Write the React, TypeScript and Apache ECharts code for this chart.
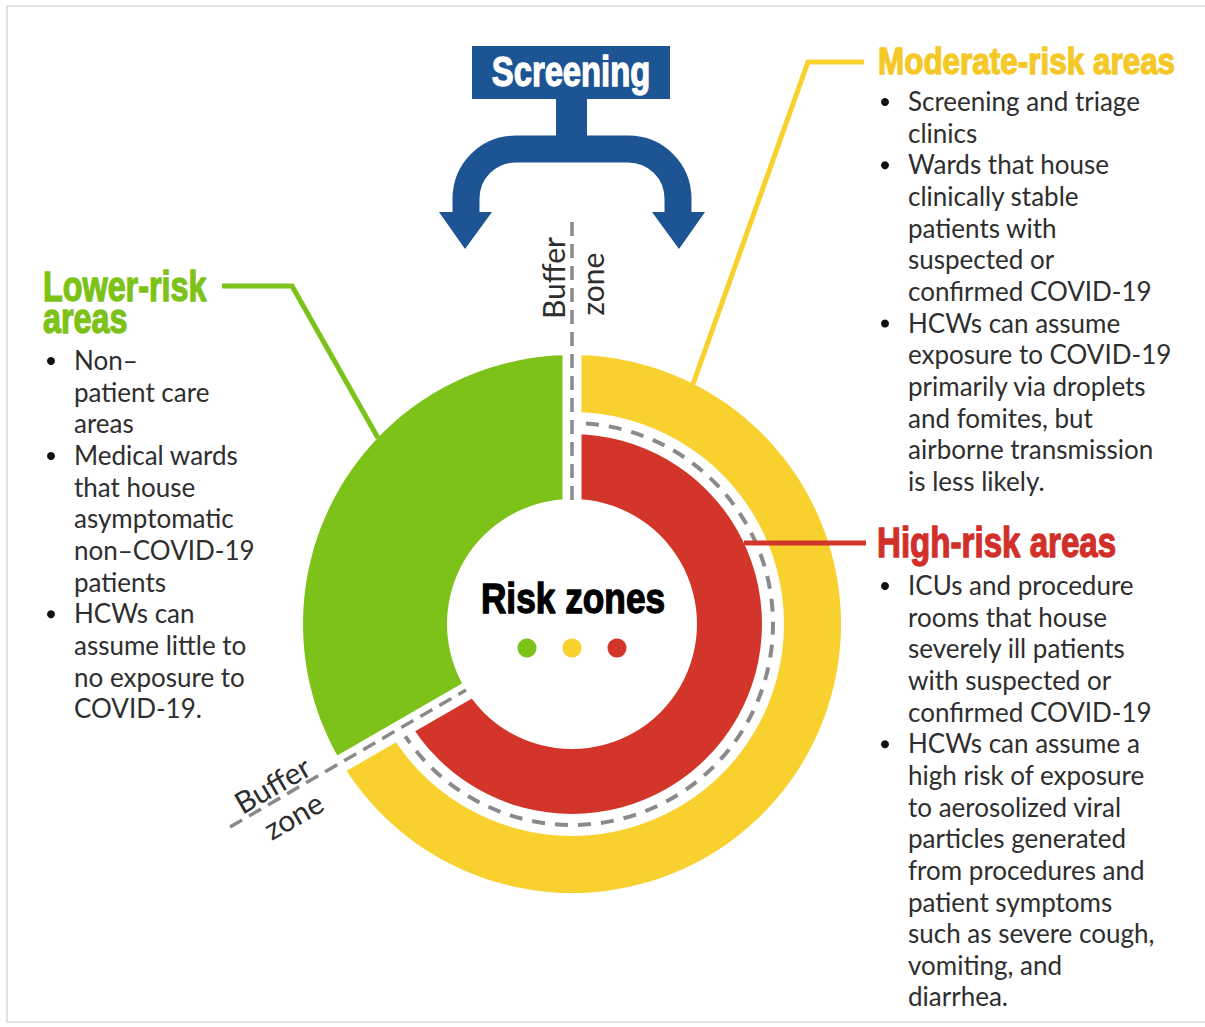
import React, { useEffect, useRef } from "react";
import * as echarts from "echarts";

// ---------- data ----------
const sectorNames = ["Moderate- and high-risk side", "Lower-risk side"];
const sectorDegrees = [240, 120];

const zoneKeys = ["lower", "moderate", "high"];
const zoneColors = ["#7cc218", "#f9d12f", "#d3352b"];
const headingColors = ["#7cc218", "#f4c927", "#d1302a"];

const screeningLabel = "Screening";
const centerLabel = "Risk zones";
const bufferWords = ["Buffer", "zone"];

const lowerTitle = ["Lower-risk", "areas"];
const lowerItems = [
  ["Non–", "patient care", "areas"],
  ["Medical wards", "that house", "asymptomatic", "non–COVID-19", "patients"],
  ["HCWs can", "assume little to", "no exposure to", "COVID-19."],
];
const moderateTitle = "Moderate-risk areas";
const moderateItems = [
  ["Screening and triage", "clinics"],
  ["Wards that house", "clinically stable", "patients with", "suspected or", "confirmed COVID-19"],
  ["HCWs can assume", "exposure to COVID-19", "primarily via droplets", "and fomites, but", "airborne transmission", "is less likely."],
];
const highTitle = "High-risk areas";
const highItems = [
  ["ICUs and procedure", "rooms that house", "severely ill patients", "with suspected or", "confirmed COVID-19"],
  ["HCWs can assume a", "high risk of exposure", "to aerosolized viral", "particles generated", "from procedures and", "patient symptoms", "such as severe cough,", "vomiting, and", "diarrhea."],
];

// ---------- layout constants ----------
const CX = 572;
const CY = 624;
const BLUE = "#1c5494";
const DASH = "#8a8a8a";
const TEXT = "#2e2e2e";
const HEAD_FONT = "'Liberation Sans', Arial, sans-serif";
const BODY_FONT = "Lato, 'Open Sans', sans-serif";
const LINE_H = 31.65;

const archPath =
  "M466 216 L466 199 C466 171 488 149 516 149 L628 149 C656 149 678 171 678 199 L678 216";
echarts.graphic.registerShape("screenArch", echarts.graphic.extendPath(archPath, {}));

function txt(x: number, y: number, text: string, o: any = {}) {
  const align = o.align || "left";
  const style: any = {
    text,
    fill: o.fill || TEXT,
    fontSize: o.fontSize || 26,
    fontFamily: o.fontFamily || BODY_FONT,
    fontWeight: o.fontWeight || "normal",
    align,
    textAlign: align,
    verticalAlign: "middle",
    textVerticalAlign: "middle",
  };
  if (o.heavy) {
    style.stroke = o.fill;
    style.lineWidth = o.heavy;
  }
  return {
    type: "text",
    x,
    y,
    z: o.z ?? 20,
    rotation: o.rotation || 0,
    scaleX: o.scaleX ?? 1,
    silent: true,
    style,
  };
}

function bulletList(items: string[][], x: number, startY: number) {
  const els: any[] = [];
  let row = 0;
  items.forEach((lines) => {
    els.push({
      type: "circle",
      z: 20,
      silent: true,
      shape: { cx: x - 23, cy: startY + row * LINE_H + 1, r: 4 },
      style: { fill: "#111" },
    });
    lines.forEach((line) => {
      els.push(txt(x, startY + row * LINE_H, line));
      row++;
    });
  });
  return els;
}

function ring(name: string, inner: number, outer: number, colors: string[]) {
  return {
    type: "pie",
    name,
    center: [CX, CY],
    radius: [inner, outer],
    startAngle: 90,
    clockwise: true,
    silent: true,
    avoidLabelOverlap: false,
    label: { show: false },
    labelLine: { show: false },
    emphasis: { disabled: true },
    itemStyle: { borderWidth: 0 },
    data: sectorDegrees.map((v, i) => ({
      name: sectorNames[i],
      value: v,
      itemStyle: { color: colors[i], borderWidth: 0 },
    })),
  };
}

export default function App() {
  const ref = useRef<HTMLDivElement>(null);
  useEffect(() => {
    if (!ref.current) return;
    const chart = echarts.init(ref.current, null, { renderer: "svg" });
    const none = "rgba(0,0,0,0)";
    const head = (x: number, y: number, t: string, color: string, fs: number, sx: number, align = "left") =>
      txt(x, y, t, {
        fill: color,
        fontSize: fs,
        fontFamily: HEAD_FONT,
        fontWeight: "bold",
        scaleX: sx,
        align,
        heavy: 1.3,
      });
    const graphics: any[] = [
      // frame
      {
        type: "rect",
        z: 1,
        silent: true,
        shape: { x: 7, y: 6, width: 1205, height: 1016 },
        style: { fill: "none", stroke: "#e3e3e3", lineWidth: 2 },
      },
      // white gaps (buffer zones)
      {
        type: "line",
        z: 10,
        silent: true,
        shape: { x1: CX, y1: CY, x2: CX, y2: 345 },
        style: { stroke: "#fff", lineWidth: 19 },
      },
      {
        type: "line",
        z: 10,
        silent: true,
        shape: { x1: 318, y1: 777, x2: 562, y2: 636 },
        style: { stroke: "#fff", lineWidth: 18 },
      },
      // dashed buffer lines
      {
        type: "line",
        z: 11,
        silent: true,
        shape: { x1: CX, y1: 222, x2: CX, y2: 500 },
        style: { stroke: DASH, lineWidth: 3.5, lineDash: [14, 8] },
      },
      {
        type: "line",
        z: 11,
        silent: true,
        shape: { x1: 230, y1: 827, x2: 466, y2: 690 },
        style: { stroke: DASH, lineWidth: 3.5, lineDash: [14, 8] },
      },
      {
        type: "arc",
        z: 11,
        silent: true,
        shape: {
          cx: CX,
          cy: CY,
          r: 201,
          startAngle: -Math.PI / 2 + 0.07,
          endAngle: (5 * Math.PI) / 6 - 0.07,
          clockwise: true,
        },
        style: { stroke: DASH, lineWidth: 4, lineDash: [13, 10], fill: "none" },
      },
      // screening box and arrows
      {
        type: "rect",
        z: 12,
        silent: true,
        shape: { x: 472, y: 46, width: 198, height: 53 },
        style: { fill: BLUE },
      },
      {
        type: "rect",
        z: 12,
        silent: true,
        shape: { x: 556, y: 96, width: 31, height: 60 },
        style: { fill: BLUE },
      },
      {
        type: "screenArch",
        z: 12,
        silent: true,
        x: 0,
        y: 0,
        style: { fill: "none", stroke: BLUE, lineWidth: 27, lineCap: "butt" },
      },
      {
        type: "polygon",
        z: 12,
        silent: true,
        shape: { points: [[439, 212], [492, 212], [465, 249]] },
        style: { fill: BLUE },
      },
      {
        type: "polygon",
        z: 12,
        silent: true,
        shape: { points: [[652, 212], [705, 212], [679, 249]] },
        style: { fill: BLUE },
      },
      head(571, 72, screeningLabel, "#fff", 42, 0.78, "center"),
      // leader lines
      {
        type: "polyline",
        z: 12,
        silent: true,
        shape: { points: [[222, 286], [292, 286], [378, 438]] },
        style: { stroke: zoneColors[0], lineWidth: 5, fill: "none" },
      },
      {
        type: "polyline",
        z: 12,
        silent: true,
        shape: { points: [[864, 62], [808, 62], [693, 384]] },
        style: { stroke: zoneColors[1], lineWidth: 5, fill: "none" },
      },
      {
        type: "line",
        z: 12,
        silent: true,
        shape: { x1: 744, y1: 543, x2: 866, y2: 543 },
        style: { stroke: zoneColors[2], lineWidth: 5 },
      },
      // headings
      head(43, 286, lowerTitle[0], headingColors[0], 42, 0.77),
      head(43, 318, lowerTitle[1], headingColors[0], 42, 0.77),
      head(878, 61, moderateTitle, headingColors[1], 37, 0.85),
      head(877, 542, highTitle, headingColors[2], 43, 0.77),
      // center
      head(573, 598, centerLabel, "#000", 42, 0.84, "center"),
      ...zoneKeys.map((k, i) => ({
        type: "circle",
        z: 20,
        silent: true,
        shape: { cx: 527 + i * 45, cy: 648, r: 9.5 },
        style: { fill: zoneColors[i] },
      })),
      // buffer zone labels
      txt(553, 278, bufferWords[0], { fontSize: 30, align: "center", rotation: Math.PI / 2 }),
      txt(592, 284, bufferWords[1], { fontSize: 30, align: "center", rotation: Math.PI / 2 }),
      txt(272, 784, bufferWords[0], { fontSize: 30, align: "center", rotation: Math.PI / 6 }),
      txt(293, 815, bufferWords[1], { fontSize: 30, align: "center", rotation: Math.PI / 6 }),
      // lists
      ...bulletList(lowerItems, 74, 360),
      ...bulletList(moderateItems, 908, 101),
      ...bulletList(highItems, 908, 585),
    ];

    chart.setOption({
      animation: false,
      backgroundColor: "#ffffff",
      series: [
        ring("lower", 125, 269, [none, zoneColors[0]]),
        ring("moderate", 212, 269, [zoneColors[1], none]),
        ring("high", 125, 190, [zoneColors[2], none]),
      ],
      graphic: { elements: graphics },
    });
    return () => chart.dispose();
  }, []);
  return (
    <div
      ref={ref}
      style={{ width: 1205, height: 1027, position: "absolute", left: 0, top: 0 }}
    />
  );
}
